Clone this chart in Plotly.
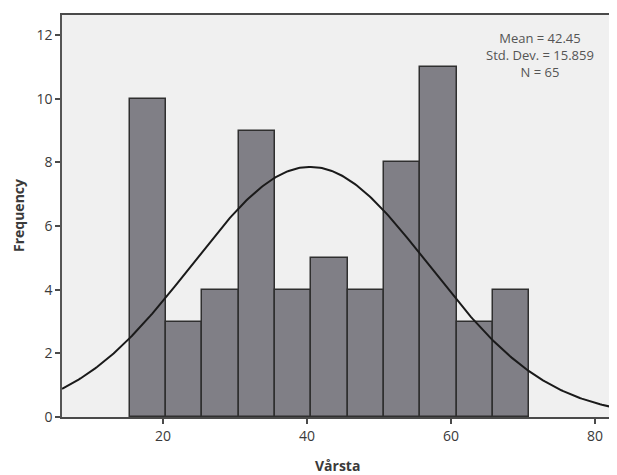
import numpy as np
import plotly.graph_objects as go

# Histogram data
bin_start = 15.35
bin_width = 5.05
frequencies = [10, 3, 4, 9, 4, 5, 4, 8, 11, 3, 4]

# Fitted normal curve as drawn
curve_mean = 40.44
curve_sd = 16.5
n_total = 65

stats_text = ["Mean = 42.45", "Std. Dev. = 15.859", "N = 65"]
x_ticks = [20, 40, 60, 80]
y_ticks = [0, 2, 4, 6, 8, 10, 12]
x_range = [5.97, 82.5]
y_range = [0, 12.63]

centers = [bin_start + bin_width * (i + 0.5) for i in range(len(frequencies))]

xs = np.linspace(x_range[0], x_range[1], 300)
ys = n_total * 5 / (curve_sd * np.sqrt(2 * np.pi)) * np.exp(-0.5 * ((xs - curve_mean) / curve_sd) ** 2)

fig = go.Figure()
fig.add_trace(go.Bar(
    x=centers, y=frequencies, width=bin_width,
    marker=dict(color="rgb(128,127,134)", line=dict(color="#2f2f2f", width=1.5)),
    hoverinfo="x+y",
))
fig.add_trace(go.Scatter(
    x=xs, y=ys, mode="lines",
    line=dict(color="#1a1a1a", width=2),
    hoverinfo="skip",
))

font_family = "Open Sans, Lato, sans-serif"

annotations = [
    dict(
        x=0.8675, y=0.9005, xref="paper", yref="paper",
        text="<br>".join(stats_text), showarrow=False,
        xanchor="center", yanchor="middle", align="center",
        font=dict(family=font_family, size=13, color="#555555"),
    ),
    dict(
        x=0.5, y=0, xref="paper", yref="paper", text="<b>Vårsta</b>",
        showarrow=False, xanchor="center", yanchor="middle", yshift=-48,
        font=dict(family=font_family, size=14, color="#3a3a3a"),
    ),
    dict(
        x=0, y=0.5, xref="paper", yref="paper", text="<b>Frequency</b>",
        showarrow=False, xanchor="center", yanchor="middle", xshift=-44,
        textangle=-90,
        font=dict(family=font_family, size=14, color="#3a3a3a"),
    ),
]

fig.update_layout(
    width=609, height=467,
    margin=dict(l=54, r=4, t=7, b=58, autoexpand=False),
    paper_bgcolor="white",
    plot_bgcolor="#f0f0f0",
    showlegend=False,
    bargap=0,
    font=dict(family=font_family, size=14, color="#3a3a3a"),
    annotations=annotations,
)
fig.update_xaxes(
    range=x_range, tickvals=x_ticks, showgrid=False, zeroline=False,
    showline=True, linecolor="#4a4a4a", linewidth=2, mirror=True,
    ticks="outside", ticklen=5, tickcolor="#4a4a4a", tickwidth=1.5,
)
fig.update_yaxes(
    range=y_range, tickvals=y_ticks, showgrid=False, zeroline=False,
    showline=True, linecolor="#555555", linewidth=1.5,
    ticks="outside", ticklen=5, tickcolor="#4a4a4a", tickwidth=1.5,
)

fig.write_html("out.html")
